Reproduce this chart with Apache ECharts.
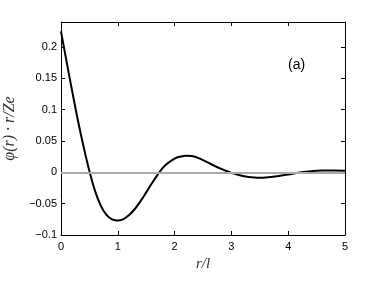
<!DOCTYPE html>
<html><head><meta charset="utf-8">
<script src="https://cdn.jsdelivr.net/npm/echarts@6/dist/echarts.min.js"></script>
<style>html,body{margin:0;padding:0;background:#fff}#c{width:382px;height:287px}</style>
</head><body><div id="c"></div>
<script>
var rValues = [0, 0.1, 0.2, 0.3, 0.4, 0.5, 0.6, 0.7, 0.8, 0.9, 1.0, 1.1, 1.2, 1.3, 1.4, 1.5, 1.6, 1.7, 1.8, 1.9, 2.0, 2.1, 2.2, 2.3, 2.4, 2.5, 2.6, 2.7, 2.8, 2.9, 3.0, 3.1, 3.2, 3.3, 3.4, 3.5, 3.6, 3.8, 4.0, 4.2, 4.4, 4.6, 4.8, 5.0];
var phiValues = [0.225, 0.176, 0.128, 0.082, 0.040, 0.002, -0.030, -0.053, -0.068, -0.075, -0.077, -0.0745, -0.068, -0.0585, -0.046, -0.032, -0.0175, -0.004, 0.008, 0.016, 0.022, 0.025, 0.0265, 0.026, 0.0235, 0.0195, 0.015, 0.0105, 0.0063, 0.0025, -0.0008, -0.0035, -0.0057, -0.0073, -0.0082, -0.0085, -0.0082, -0.0062, -0.0033, -0.0003, 0.0018, 0.0028, 0.003, 0.0026];
var xTicks = [0, 1, 2, 3, 4, 5];
var yTicks = [-0.1, -0.05, 0, 0.05, 0.1, 0.15, 0.2];

var data = rValues.map(function (r, i) { return [r, phiValues[i]]; });
var fmt = function (v) {
  var s = String(Math.round(v * 1000) / 1000);
  return s.replace('-', '\u2212');
};
var labelFont = { fontFamily: 'Liberation Sans, Arial, sans-serif', fontSize: 11, color: '#000' };
var chart = echarts.init(document.getElementById('c'), null, { renderer: 'canvas' });
chart.setOption({
  animation: false,
  grid: { left: 61, top: 22, right: 37, bottom: 52, containLabel: false, outerBoundsMode: 'none' },
  xAxis: [{
    type: 'value', min: xTicks[0], max: xTicks[xTicks.length - 1], interval: 1,
    name: 'r/l', nameLocation: 'middle', nameGap: 22,
    nameTextStyle: { fontFamily: 'Liberation Serif, DejaVu Serif, serif', fontStyle: 'italic', fontSize: 15, color: '#333' },
    axisLine: { show: true, onZero: false, lineStyle: { color: '#000', width: 1 } },
    axisTick: { show: true, inside: true, length: 4, lineStyle: { color: '#000' } },
    axisLabel: Object.assign({ margin: 6, formatter: fmt }, labelFont),
    splitLine: { show: false }
  }, {
    type: 'value', min: xTicks[0], max: xTicks[xTicks.length - 1], interval: 1, position: 'top',
    axisLine: { show: true, onZero: false, lineStyle: { color: '#000', width: 1 } },
    axisTick: { show: true, inside: true, length: 4, lineStyle: { color: '#000' } },
    axisLabel: { show: false }, splitLine: { show: false }
  }],
  yAxis: [{
    type: 'value', min: yTicks[0], max: 0.24, interval: 0.05,
    name: '\u03c6(r) \u00b7 r/Ze', nameLocation: 'middle', nameGap: 43, nameRotate: 90,
    nameTextStyle: { fontFamily: 'Liberation Serif, DejaVu Serif, serif', fontStyle: 'italic', fontSize: 16, color: '#333' },
    axisLine: { show: true, onZero: false, lineStyle: { color: '#000', width: 1 } },
    axisTick: { show: true, inside: true, length: 4, lineStyle: { color: '#000' } },
    axisLabel: Object.assign({ margin: 4, formatter: fmt, showMaxLabel: false }, labelFont),
    splitLine: { show: false }
  }, {
    type: 'value', min: yTicks[0], max: 0.24, interval: 0.05, position: 'right',
    axisLine: { show: true, onZero: false, lineStyle: { color: '#000', width: 1 } },
    axisTick: { show: true, inside: true, length: 4, lineStyle: { color: '#000' } },
    axisLabel: { show: false }, splitLine: { show: false }
  }],
  series: [{
    type: 'line', data: data, smooth: 0.4, showSymbol: false,
    lineStyle: { color: '#000', width: 2 },
    markLine: {
      silent: true, symbol: 'none', label: { show: false },
      lineStyle: { color: '#aaaaaa', width: 2, type: 'solid' },
      data: [{ yAxis: 0 }]
    },
    z: 3
  }],
  graphic: [{
    type: 'text', left: 288, top: 58,
    style: { text: '(a)', font: '14px "Liberation Sans", Arial, sans-serif', fill: '#000' }
  }]
});
</script>
</body></html>
